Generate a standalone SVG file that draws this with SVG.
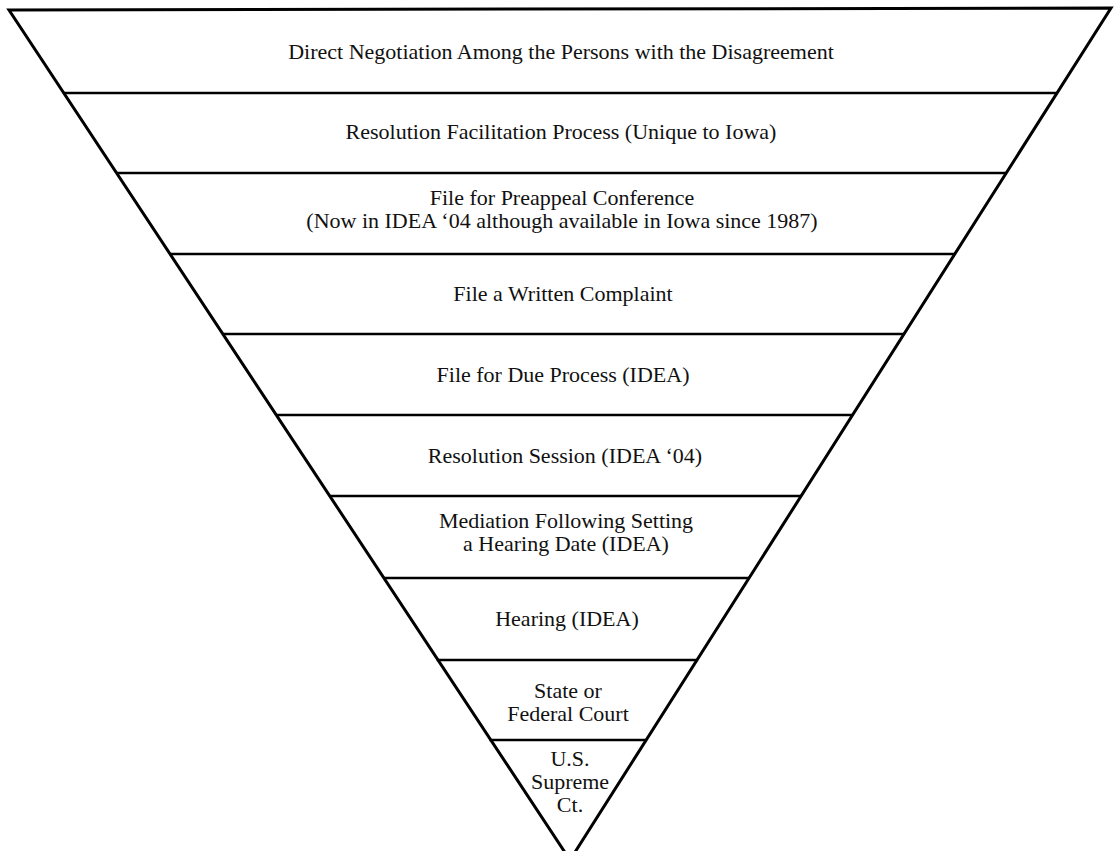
<svg xmlns="http://www.w3.org/2000/svg" width="1115" height="851" viewBox="0 0 1115 851">
<style>
.frame{fill:none;stroke:#000;stroke-width:3;stroke-linejoin:miter;stroke-miterlimit:20}
.div{stroke:#000;stroke-width:2.6;fill:none}
text{font-family:"Liberation Serif","Times New Roman",serif;font-size:22px;fill:#111;text-anchor:middle}
</style>
<rect width="1115" height="851" fill="#fff"/>
<g id="connectors">
<path class="frame" d="M9,10 L1111,8 L570,860 Z"/>
<line class="div" x1="63.8" y1="93" x2="1057.4" y2="93"/>
<line class="div" x1="116.6" y1="173" x2="1006.6" y2="173"/>
<line class="div" x1="170" y1="254" x2="955.2" y2="254"/>
<line class="div" x1="222.8" y1="334" x2="904.4" y2="334"/>
<line class="div" x1="276.3" y1="415" x2="853" y2="415"/>
<line class="div" x1="329.8" y1="496" x2="801.5" y2="496"/>
<line class="div" x1="383.9" y1="578" x2="749.4" y2="578"/>
<line class="div" x1="436.7" y1="660" x2="697.4" y2="660"/>
<line class="div" x1="489.5" y1="740" x2="646.6" y2="740"/>
</g>
<g id="tier1"><text x="561" y="59">Direct Negotiation Among the Persons with the Disagreement</text></g>
<g id="tier2"><text x="561" y="139">Resolution Facilitation Process (Unique to Iowa)</text></g>
<g id="tier3"><text x="562" y="205">File for Preappeal Conference</text><text x="562" y="228">(Now in IDEA ‘04 although available in Iowa since 1987)</text></g>
<g id="tier4"><text x="563" y="301">File a Written Complaint</text></g>
<g id="tier5"><text x="563" y="382">File for Due Process (IDEA)</text></g>
<g id="tier6"><text x="565" y="463">Resolution Session (IDEA ‘04)</text></g>
<g id="tier7"><text x="566" y="528">Mediation Following Setting</text><text x="566" y="551">a Hearing Date (IDEA)</text></g>
<g id="tier8"><text x="567" y="626">Hearing (IDEA)</text></g>
<g id="tier9"><text x="568" y="698">State or</text><text x="568" y="721">Federal Court</text></g>
<g id="tier10"><text x="570" y="766">U.S.</text><text x="570" y="789">Supreme</text><text x="570" y="812">Ct.</text></g>
</svg>
